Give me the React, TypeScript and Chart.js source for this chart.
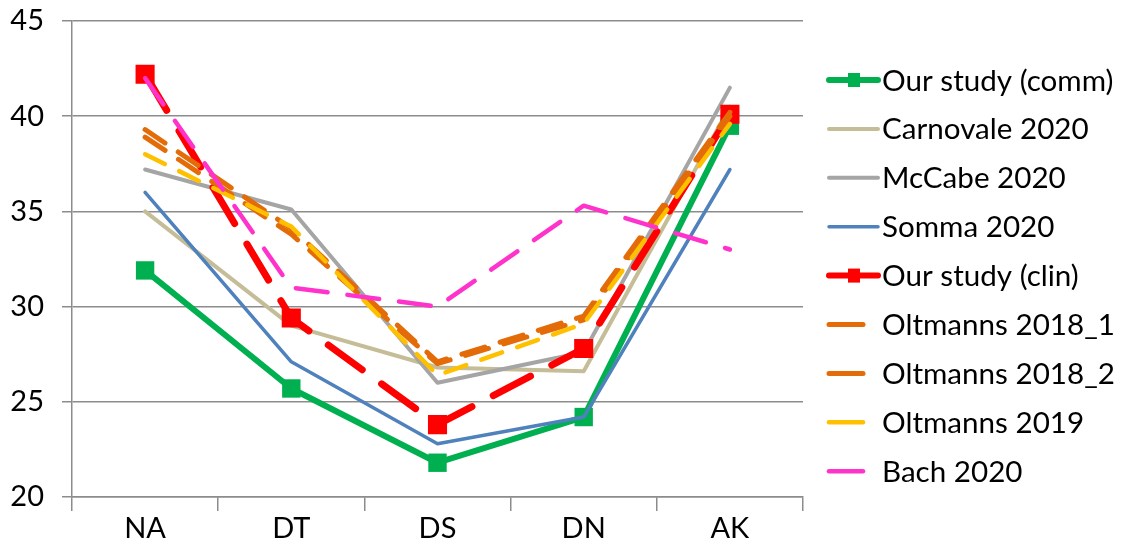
import React, { useEffect, useRef } from 'react';
import { Chart, ChartConfiguration, registerables } from 'chart.js';

Chart.register(...registerables);

const categories = ['NA', 'DT', 'DS', 'DN', 'AK'];

const ourComm = [31.9, 25.7, 21.8, 24.2, 39.5];
const carnovale2020 = [35.0, 29.0, 26.8, 26.6, 40.5];
const mccabe2020 = [37.2, 35.1, 26.0, 27.6, 41.5];
const somma2020 = [36.0, 27.1, 22.8, 24.2, 37.2];
const ourClin = [42.2, 29.4, 23.8, 27.8, 40.1];
const oltmanns2018_1 = [39.3, 34.1, 27.1, 29.5, 40.2];
const oltmanns2018_2 = [38.9, 33.8, 27.0, 29.3, 40.0];
const oltmanns2019 = [38.0, 34.2, 26.4, 29.1, 39.6];
const bach2020 = [42.0, 31.0, 30.0, 35.3, 33.0];

const yTicks = [20, 25, 30, 35, 40, 45];

const FONT = 'Lato, "Liberation Sans", sans-serif';
const GRID = '#8c8c8c';

// legend drawn on the canvas, to the right of the plot
const sideLegend = {
  id: 'sideLegend',
  afterDraw(chart: Chart) {
    const ctx = chart.ctx;
    const x0 = chart.chartArea.right + 26;
    ctx.save();
    ctx.font = `29.6px ${FONT}`;
    ctx.textBaseline = 'middle';
    ctx.fillStyle = '#000';
    chart.data.datasets.forEach((ds: any, i: number) => {
      const y = 80 + i * 48.9;
      const dashed = ds.borderDash && ds.borderDash.length && !ds.pointRadius;
      const len = dashed ? 34 : 49;
      ctx.beginPath();
      ctx.strokeStyle = ds.borderColor;
      ctx.lineWidth = Math.min(ds.borderWidth, 6);
      ctx.lineCap = 'round';
      ctx.moveTo(x0, y);
      ctx.lineTo(x0 + len, y);
      ctx.stroke();
      if (ds.pointRadius) {
        ctx.fillStyle = ds.borderColor;
        ctx.fillRect(x0 + 19, y - 7, 12, 14);
        ctx.fillStyle = '#000';
      }
      ctx.fillText(ds.label, x0 + 53, y + 1);
    });
    ctx.restore();
  },
};

export default function App() {
  const canvasRef = useRef<HTMLCanvasElement>(null);
  const chartRef = useRef<Chart | null>(null);

  useEffect(() => {
    document.body.style.margin = '0';
    if (!canvasRef.current) return;
    if (chartRef.current) chartRef.current.destroy();

    const line = (label: string, data: number[], color: string, width: number, dash: number[] = []) => ({
      label,
      data,
      borderColor: color,
      backgroundColor: color,
      borderWidth: width,
      borderDash: dash,
      borderCapStyle: 'round' as const,
      borderJoinStyle: 'round' as const,
      pointRadius: 0,
      tension: 0,
      fill: false,
    });

    const datasets: any[] = [
      { ...line('Our study (comm)', ourComm, '#00b050', 6), pointRadius: 13, pointStyle: 'rect', pointBorderWidth: 0 },
      line('Carnovale 2020', carnovale2020, '#c4bd97', 4),
      line('McCabe 2020', mccabe2020, '#a5a5a5', 4),
      line('Somma 2020', somma2020, '#4f81bd', 3.5),
      { ...line('Our study (clin)', ourClin, '#ff0000', 7, [42, 24]), pointRadius: 13.5, pointStyle: 'rect', pointBorderWidth: 0 },
      line('Oltmanns 2018_1', oltmanns2018_1, '#e36c09', 5, [24, 16]),
      line('Oltmanns 2018_2', oltmanns2018_2, '#e36c09', 5, [24, 16]),
      line('Oltmanns 2019', oltmanns2019, '#ffc000', 4.5, [22, 16]),
      line('Bach 2020', bach2020, '#ff33cc', 4.5, [32, 20]),
    ];
    // later series on top, as in the source
    datasets.forEach((d, i) => (d.order = datasets.length - i));

    const config: ChartConfiguration = {
      type: 'line',
      data: { labels: categories, datasets },
      options: {
        responsive: true,
        maintainAspectRatio: false,
        animation: false,
        layout: { padding: { top: 21, right: 321, left: 0, bottom: 0 } },
        plugins: {
          legend: { display: false },
          tooltip: { enabled: false },
        },
        scales: {
          x: {
            offset: true,
            grid: { offset: true, drawOnChartArea: false, drawTicks: true, tickLength: 14, color: GRID, lineWidth: 1.5 },
            border: { color: GRID, width: 1.5 },
            ticks: { color: '#000', font: { family: FONT, size: 29 }, padding: 0 },
            afterFit: (scale: any) => { scale.height = 56; },
          },
          y: {
            min: 20,
            max: 45,
            afterBuildTicks: (scale: any) => { scale.ticks = yTicks.map(v => ({ value: v })); },
            grid: { color: GRID, lineWidth: 1.5, tickLength: 10 },
            border: { color: GRID, width: 1.5 },
            ticks: { color: '#000', font: { family: FONT, size: 29 }, padding: 18 },
            afterFit: (scale: any) => {
              scale.width = 72;
              scale.paddingTop = 10;
              scale.paddingBottom = 10;
            },
          },
        },
      },
      plugins: [sideLegend],
    };

    chartRef.current = new Chart(canvasRef.current, config);
    return () => {
      if (chartRef.current) {
        chartRef.current.destroy();
        chartRef.current = null;
      }
    };
  }, []);

  return (
    <div style={{ width: '1124px', height: '553px', position: 'relative', background: '#fff' }}>
      <canvas ref={canvasRef}></canvas>
    </div>
  );
}
